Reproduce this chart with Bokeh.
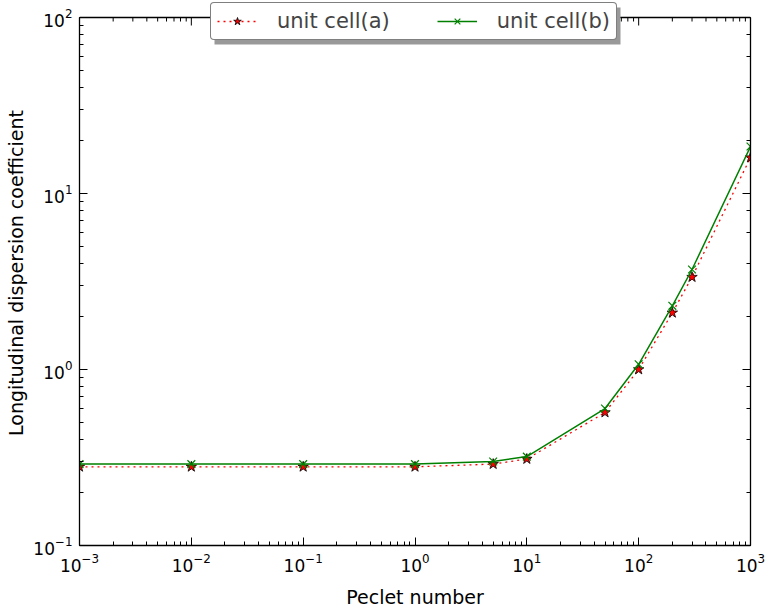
import math
from bokeh.plotting import figure
from bokeh.models import LogAxis, Legend, LegendItem, LogTicker, Span, BoxAnnotation
from bokeh.embed import file_html
from bokeh.resources import INLINE

peclet = [0.001, 0.01, 0.1, 1, 5, 10, 50, 100, 200, 300, 1000]
cell_a = [0.28, 0.28, 0.28, 0.28, 0.29, 0.31, 0.57, 1.0, 2.1, 3.35, 16.0]
cell_b = [0.29, 0.29, 0.29, 0.29, 0.30, 0.32, 0.60, 1.07, 2.3, 3.7, 18.5]
label_a = "unit cell(a)"
label_b = "unit cell(b)"
x_label = "Peclet number"
y_label = "Longitudinal dispersion coefficient"

X_MIN, X_MAX = 1e-3, 1e3
Y_MIN, Y_MAX = 1e-1, 1e2

FONT = "DejaVu Sans"

# The frame is extended to the top of the canvas so the legend can sit above
# the visible axes box (as in the reference); the box itself ends at Y_MAX.
FRAME_TOP_PAD = 17      # px between canvas top and the top of the axes box
AXES_H = 528            # px height of the axes box
y_end = 10 ** (math.log10(Y_MIN) + (math.log10(Y_MAX) - math.log10(Y_MIN)) * (AXES_H + FRAME_TOP_PAD) / AXES_H)

p = figure(width=769, height=612, x_axis_type="log", y_axis_type="log",
           x_range=(X_MIN, X_MAX), y_range=(Y_MIN, y_end),
           output_backend="svg", toolbar_location=None,
           min_border_left=79, min_border_right=19, min_border_top=0, min_border_bottom=67)
p.xgrid.visible = False
p.ygrid.visible = False
p.outline_line_alpha = 0

la = p.line(peclet, cell_a, line_color="#ff0000", line_dash="dotted", line_width=1.3)
sa = p.scatter(peclet, cell_a, marker="star", size=11, fill_color="#ff0000", line_color="black", line_width=0.8)
lb = p.line(peclet, cell_b, line_color="#008000", line_width=1.5)
sb = p.scatter(peclet, cell_b, marker="x", size=11, line_color="#008000", line_width=1.2)

def style_axis(ax, show_labels=True):
    ax.major_tick_in = 8
    ax.major_tick_out = 0
    ax.minor_tick_in = 4
    ax.minor_tick_out = 0
    ax.axis_line_color = "black"
    ax.axis_line_width = 1.3
    ax.major_tick_line_color = "black"
    ax.minor_tick_line_color = "black"
    ax.major_label_text_font = FONT
    ax.major_label_text_color = "black"
    if show_labels:
        ax.major_label_text_font_size = "17px"
        ax.major_label_standoff = 7
    else:
        ax.major_label_text_font_size = "1px"
        ax.major_label_text_alpha = 0
        ax.major_label_standoff = 0

for ax in p.xaxis + p.yaxis:
    style_axis(ax)
    ax.axis_label_text_font = FONT
    ax.axis_label_text_font_size = "19px"
    ax.axis_label_text_font_style = "normal"
    ax.axis_label_text_color = "black"
p.xaxis.axis_label = x_label
p.yaxis.axis_label = y_label
p.xaxis.axis_label_standoff = 11
p.yaxis.axis_label_standoff = 3
p.yaxis.bounds = (Y_MIN, Y_MAX)

right_ax = LogAxis(ticker=LogTicker(), bounds=(Y_MIN, Y_MAX))
style_axis(right_ax, False)
p.add_layout(right_ax, "right")

# top edge of the axes box with inward ticks
p.add_layout(Span(location=Y_MAX, dimension="width", line_color="black", line_width=1.3))
k0, k1 = int(round(math.log10(X_MIN))), int(round(math.log10(X_MAX)))
major_top = [10.0 ** k for k in range(k0, k1 + 1)]
minor_top = [m * 10.0 ** k for k in range(k0, k1) for m in range(2, 10)]
p.ray(x=major_top, y=[Y_MAX] * len(major_top), length=8, length_units="screen",
      angle=-math.pi / 2, line_color="black", line_width=1)
p.ray(x=minor_top, y=[Y_MAX] * len(minor_top), length=4, length_units="screen",
      angle=-math.pi / 2, line_color="black", line_width=1)

# legend drop shadow (screen units, relative to the frame's bottom-left corner)
shadow = BoxAnnotation(left=135, right=541, top=538, bottom=501,
                       left_units="screen", right_units="screen",
                       top_units="screen", bottom_units="screen",
                       fill_color="#999999", fill_alpha=1.0, line_alpha=0)
p.add_layout(shadow)

legend = Legend(items=[LegendItem(label=label_a, renderers=[la, sa]),
                       LegendItem(label=label_b, renderers=[lb, sb])],
                orientation="horizontal", location=(131, 505),
                label_text_font=FONT, label_text_font_size="21px",
                glyph_width=40, glyph_height=20, label_standoff=20, spacing=47,
                padding=6, margin=0,
                background_fill_color="white", background_fill_alpha=1.0,
                border_line_color="black", border_line_width=1.5)
if "border_radius" in Legend.properties():
    legend.border_radius = 4
p.add_layout(legend, "center")

open("out.html", "w").write(file_html(p, INLINE))
